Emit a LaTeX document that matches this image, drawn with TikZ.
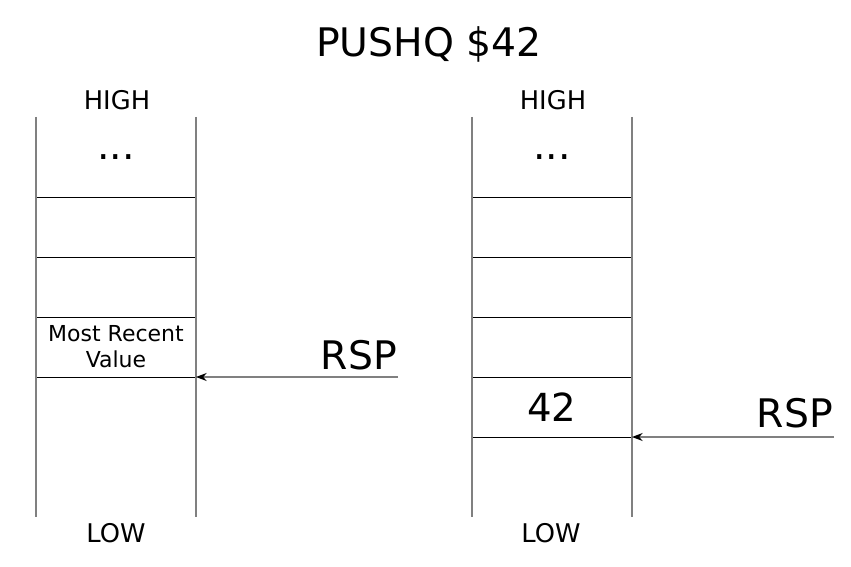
\documentclass[tikz,border=0pt]{standalone}
\usepackage{fontspec}
\setmainfont{DejaVu Sans}
\usetikzlibrary{positioning,arrows.meta}

\begin{document}
\begin{tikzpicture}[x=0.75pt,y=-0.75pt,
  cell/.style = {draw, line width=0.6pt, minimum width=120pt,
    minimum height=45pt, inner sep=0pt, outer sep=0pt, align=center,
    font=\fontsize{16.5}{19.5}\selectfont},
  rail/.style = {draw=gray, line width=1.1pt},
  endtext/.style = {anchor=base, font=\fontsize{19.3}{22}\selectfont},
  bigtext/.style = {inner sep=0pt, font=\fontsize{29.5}{34}\selectfont},
  ptr/.style = {draw=gray, line width=0.9pt,
    -{Stealth[black, length=8pt, width=6pt]}}]
  \useasboundingbox (0,0) rectangle (851,567);
  % title
  \node[bigtext, anchor=base] (title) at (429,57) {PUSHQ \$42};
  % stack before the push
  \node[cell] (l1) at (116,227) {};
  \node[cell, below=0pt of l1] (l2) {};
  \node[cell, below=0pt of l2] (l3) {Most Recent\\Value};
  \draw[rail] (l1.west |- 0,117) -- (l1.west |- 0,517);
  \draw[rail] (l1.east |- 0,117) -- (l1.east |- 0,517);
  \node[endtext] (lhigh) at (117,110) {HIGH};
  \node[bigtext, anchor=base] (ldots) at (116,160) {...};
  \node[endtext] (llow) at (116,542) {LOW};
  \coordinate (lrsp) at (398,377);
  \node[bigtext, anchor=base east] (lrsptext) at (397,369) {RSP};
  \draw[ptr] (lrsp) -- (l3.south east);
  % stack after the push
  \node[cell] (r1) at (552,227) {};
  \node[cell, below=0pt of r1] (r2) {};
  \node[cell, below=0pt of r2] (r3) {};
  \node[cell, below=0pt of r3, font=\fontsize{29}{34}\selectfont] (r4) {42};
  \draw[rail] (r1.west |- 0,117) -- (r1.west |- 0,517);
  \draw[rail] (r1.east |- 0,117) -- (r1.east |- 0,517);
  \node[endtext] (rhigh) at (553,110) {HIGH};
  \node[bigtext, anchor=base] (rdots) at (552,160) {...};
  \node[endtext] (rlow) at (551,542) {LOW};
  \coordinate (rrsp) at (834,437);
  \node[bigtext, anchor=base east] (rrsptext) at (833,427) {RSP};
  \draw[ptr] (rrsp) -- (r4.south east);
\end{tikzpicture}
\end{document}
